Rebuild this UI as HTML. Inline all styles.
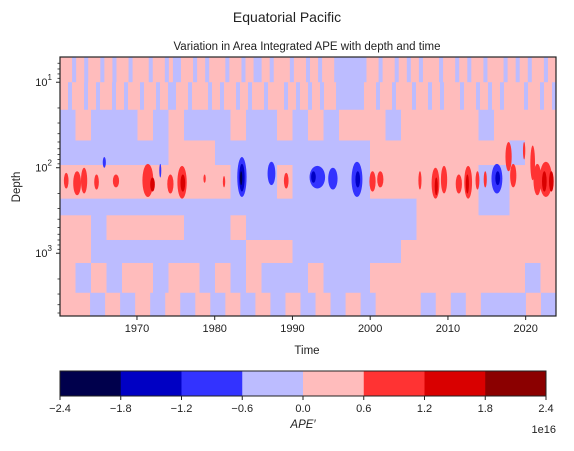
<!DOCTYPE html>
<html><head><meta charset="utf-8"><style>
html,body{margin:0;padding:0;background:#fff}
svg{display:block;font-family:"Liberation Sans",sans-serif}
</style></head><body>
<svg id="chart" width="574" height="451" viewBox="0 0 574 451" xmlns="http://www.w3.org/2000/svg">
<text x="287" y="22" font-size="14" text-anchor="middle" fill="#222">Equatorial Pacific</text>
<text x="307" y="50" font-size="11.5" text-anchor="middle" fill="#222">Variation in Area Integrated APE with depth and time</text>
<defs><clipPath id="plotclip"><rect x="60" y="57" width="496" height="259"/></clipPath></defs>
<g id="plot" clip-path="url(#plotclip)"></g>
<rect x="60" y="57" width="496" height="259" fill="none" stroke="#222" stroke-width="1.2"/>
<g id="axes"></g>
<text x="307" y="354" font-size="11.5" text-anchor="middle" fill="#222">Time</text>
<text x="0" y="0" font-size="11.5" text-anchor="middle" fill="#222" transform="translate(20,187) rotate(-90)">Depth</text>
<g id="cbar"></g>
<text x="303" y="428" font-size="11.5" font-style="italic" text-anchor="middle" fill="#222">APE′</text>
<text x="556" y="433" font-size="11" text-anchor="end" fill="#222">1e16</text>
</svg>
<script>
// ---- data ----
const levels = [-2.4,-1.8,-1.2,-0.6,0,0.6,1.2,1.8,2.4];
const levelColors = ["#00004c","#0000c4","#3333ff","#bcbcff","#ffbcbc","#ff3333","#d90000","#8b0000"];
const yearDomain = [1960.1, 2023.9];
const depthDomain = [5.07, 5420];
const xTicks = [1970,1980,1990,2000,2010,2020];
const yTicks = [10,100,1000];
const yTickLabels = ["1","2","3"];
// depth band edges (m) and base sign per band; 'l' = -0.6..0, 'p' = 0..0.6
const bandEdges = [5.07,10,21,48,93,230,360,700,1300,2900,5420];
const bandRows = [
 "ppplpplppplpplppplpppplppplpllppplpplpppplppplppllpplpppplppplpplpppllllllllppplppplpplpplpppplppplpplppplpppplpplpplppplpp",
 "pplppplpplppplpplppplppplppllppplpppplpplppplpplppplpppplpplpplpplppplllllllppplppplpppplppplpplpppplppplpplpplppppplppplppl",
 "lplllplplllpllplplppplppppplpppp",
 "lllllllpppllllllllllppppppppplpp",
 "ppppppppppplllplllllpppppppllppp",
 "lllllllllllllllllllllllppppllppp",
 "pplppppplllplllllllllllppppppppp",
 "ppllllllllllppplllllllpppppppppp",
 "plplpplpplplplllplllpppppppppplp",
 "pplplplplplplplplplplppplplplllpl"
];
// blobs: year, half-width (yr), depth top, depth bottom, level index
const blobYear  = [1960.9,1962.3,1963.2,1964.8,1965.8,1967.3,1971.4,1972.0,1973.0,1974.3,1975.8,1975.9,1978.7,1981.2,1983.5,1983.5,1983.4,1987.3,1989.2,1993.2,1992.7,1995.2,1998.3,1998.4,2000.3,2001.3,2006.4,2008.4,2008.5,2009.5,2011.4,2012.6,2012.5,2013.8,2014.8,2016.3,2016.4,2017.8,2018.4,2019.8,2020.9,2021.5,2022.6,2022.4,2023.3];
const blobHalfW = [0.3,0.5,0.4,0.3,0.2,0.4,0.7,0.3,0.1,0.4,0.6,0.3,0.15,0.15,0.6,0.35,0.15,0.5,0.3,1.0,0.3,0.6,0.7,0.3,0.4,0.4,0.2,0.5,0.2,0.4,0.4,0.5,0.2,0.25,0.2,0.7,0.3,0.4,0.4,0.15,0.3,0.5,0.8,0.3,0.3];
const blobTop   = [115,110,100,120,75,120,90,130,90,120,95,120,120,125,75,90,110,85,115,95,110,100,85,110,110,110,110,100,130,95,120,95,120,110,110,90,110,50,90,50,55,90,85,110,110];
const blobBot   = [175,210,200,180,100,170,220,190,130,200,230,190,150,170,220,190,160,160,175,175,150,180,220,170,190,170,180,230,210,200,200,230,200,180,170,200,160,110,170,80,140,210,220,190,190];
const blobLevel = [5,5,5,5,2,5,5,6,2,5,5,6,5,5,2,1,0,2,5,2,1,2,2,1,5,5,5,5,6,5,5,5,6,5,5,2,1,5,5,5,5,5,5,6,6];

// ---- scales ----
const X0=60,X1=556,Y0=57,Y1=316;
function xs(yr){return X0+(yr-yearDomain[0])/(yearDomain[1]-yearDomain[0])*(X1-X0);}
function ys(d){const a=Math.log10(depthDomain[0]),b=Math.log10(depthDomain[1]);return Y0+(Math.log10(d)-a)/(b-a)*(Y1-Y0);}
const NS="http://www.w3.org/2000/svg";
function mk(tag,attrs,parent){const e=document.createElementNS(NS,tag);for(const k in attrs)e.setAttribute(k,attrs[k]);parent.appendChild(e);return e;}

const plot=document.getElementById('plot');
bandRows.forEach((row,ri)=>{
  const yA=ys(bandEdges[ri]),yB=ys(bandEdges[ri+1]);
  const n=row.length,span=yearDomain[1]-yearDomain[0];
  for(let c=0;c<n;c++){
    const ya=yearDomain[0]+span*c/n,yb=yearDomain[0]+span*(c+1)/n;
    const r=mk('rect',{x:xs(ya),y:yA,width:xs(yb)-xs(ya)+0.5,height:yB-yA+0.5,fill:row[c]==='l'?levelColors[3]:levelColors[4]},plot);
    
    
  }
});
blobYear.forEach((yr,i)=>{
  const yt=ys(blobTop[i]),yb=ys(blobBot[i]);
  const e=mk('ellipse',{cx:xs(yr),cy:(yt+yb)/2,rx:Math.max(1,blobHalfW[i]*(X1-X0)/(yearDomain[1]-yearDomain[0])),ry:(yb-yt)/2,fill:levelColors[blobLevel[i]]},plot);
  
  
});

const axes=document.getElementById('axes');
xTicks.forEach(t=>{
  const x=xs(t);
  const l=mk('line',{x1:x,x2:x,y1:Y1,y2:Y1+4,stroke:'#222','stroke-width':1},axes);
  
  
  const tx=mk('text',{x:x,y:Y1+16,'font-size':11,'text-anchor':'middle',fill:'#222'},axes);
  tx.textContent=t;
  
  
});
yTicks.forEach((t,i)=>{
  const y=ys(t);
  const l=mk('line',{x1:X0-4,x2:X0,y1:y,y2:y,stroke:'#222','stroke-width':1},axes);
  
  
  const tx=mk('text',{x:X0-8,y:y+4,'font-size':11,'text-anchor':'end',fill:'#222'},axes);
  tx.textContent='10';
  const sp=mk('tspan',{dy:-6,'font-size':8},tx);
  sp.textContent=yTickLabels[i];
  
  
});
for(let dec=1;dec<=1000;dec*=10){
  for(let m=2;m<=9;m++){
    const d=dec*m;
    if(d<depthDomain[0]||d>depthDomain[1])continue;
    const y=ys(d);
    const l=mk('line',{x1:X0-2.5,x2:X0,y1:y,y2:y,stroke:'#222','stroke-width':0.8},axes);
    
    
  }
}

const cb=document.getElementById('cbar');
const CX0=60,CX1=546,CY0=371,CY1=396;
function cx(v){return CX0+(v-levels[0])/(levels[levels.length-1]-levels[0])*(CX1-CX0);}
for(let i=0;i<levelColors.length;i++){
  const r=mk('rect',{x:cx(levels[i]),y:CY0,width:cx(levels[i+1])-cx(levels[i])+0.3,height:CY1-CY0,fill:levelColors[i]},cb);
  
  
}
mk('rect',{x:CX0,y:CY0,width:CX1-CX0,height:CY1-CY0,fill:'none',stroke:'#222','stroke-width':1},cb);
levels.forEach(v=>{
  const x=cx(v);
  const l=mk('line',{x1:x,x2:x,y1:CY1,y2:CY1+4,stroke:'#222','stroke-width':1},cb);
  
  
  const t=mk('text',{x:x,y:CY1+16,'font-size':11,'text-anchor':'middle',fill:'#222'},cb);
  t.textContent=(v<0?'\u2212':'')+Math.abs(v).toFixed(1);
  
  
});
</script>
</body></html>
